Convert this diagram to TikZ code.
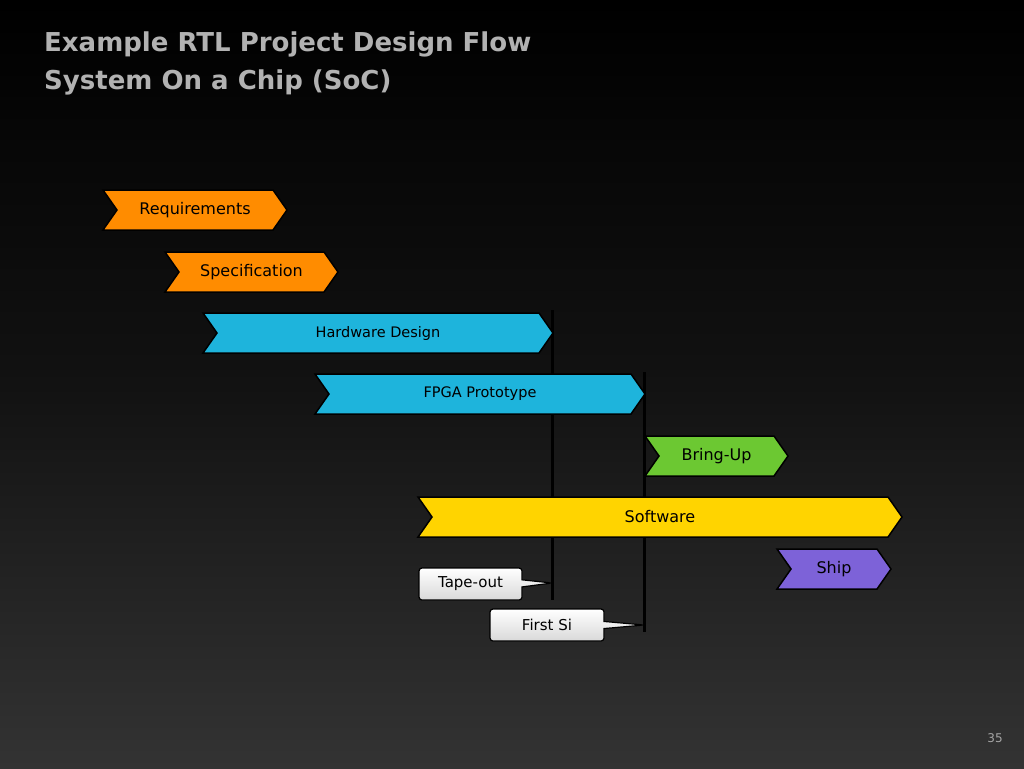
\documentclass[tikz,border=0pt]{standalone}
\usepackage{fontspec}
\setmainfont{DejaVu Sans}
\usetikzlibrary{shapes.symbols,shapes.callouts}

\definecolor{phaseorange}{HTML}{FF8C00}
\definecolor{phasecyan}{HTML}{1EB4DC}
\definecolor{phasegreen}{HTML}{6CC832}
\definecolor{phaseyellow}{HTML}{FFD400}
\definecolor{phaseviolet}{HTML}{7D62D8}

\tikzset{
  chev/.style={signal, signal from=west, signal to=east, signal pointer angle=110,
    draw=black, line width=1.5pt, minimum height=40pt, inner sep=0pt,
    font=\fontsize{16}{18}\selectfont},
  tag/.style={rectangle callout, rounded corners=3pt, draw=black, line width=1.2pt,
    top color=white, bottom color=gray!30, minimum height=32pt, inner sep=0pt,
    font=\fontsize{15}{17}\selectfont},
  mark line/.style={black, line width=3pt}
}

\begin{document}
\begin{tikzpicture}[x=1pt,y=-1pt]
                %% background
                \shade[top color=black, bottom color=black!80!white, middle color=black!93!white] (0,0) rectangle (1024,768);
                \useasboundingbox (0,0) rectangle (1024,768);

                \node[anchor=north west, align=left, text=gray!60, inner sep=0pt, font=\fontsize{26}{38}\selectfont\bfseries]
                  (title) at (44,32) {Example RTL Project Design Flow\\System On a Chip (SoC)};

                %% milestone lines
                \draw[mark line] (552,310) coordinate (top1) -- (552,600) coordinate (bot1);
                \draw[mark line] (644,372) coordinate (top2) -- (644,632) coordinate (bot2);

                %% phases
                \node[chev, fill=phaseorange, minimum width=184pt] (req) at (195,210) {Requirements};
                \node[chev, fill=phaseorange, minimum width=173pt] (spec) at (251.5,272) {Specification};
                \node[chev, fill=phasecyan, minimum width=350pt, font=\fontsize{14.5}{17}\selectfont] (hw) at (378,333) {Hardware Design};
                \node[chev, fill=phasecyan, minimum width=330pt, font=\fontsize{14.5}{17}\selectfont] (fpga) at (480,394) {FPGA Prototype};
                \node[chev, fill=phasegreen, minimum width=143pt] (bring) at (716.5,456) {Bring-Up};
                \node[chev, fill=phaseyellow, minimum width=484pt] (sw) at (660,517) {Software};
                \node[chev, fill=phaseviolet, minimum width=114pt] (ship) at (834,569) {Ship};

                %% milestones
                \coordinate (tp) at (552,583);
                \coordinate (fs) at (644,625);
                \node[tag, minimum width=103pt, callout absolute pointer={(tp)}] (tape) at (470.5,584) {Tape-out};
                \node[tag, minimum width=114pt, callout absolute pointer={(fs)}] (first) at (547,625) {First Si};

                \node[text=gray!70, font=\fontsize{12}{14}\selectfont] (page) at (995,738) {35};
            \end{tikzpicture}
\end{document}
